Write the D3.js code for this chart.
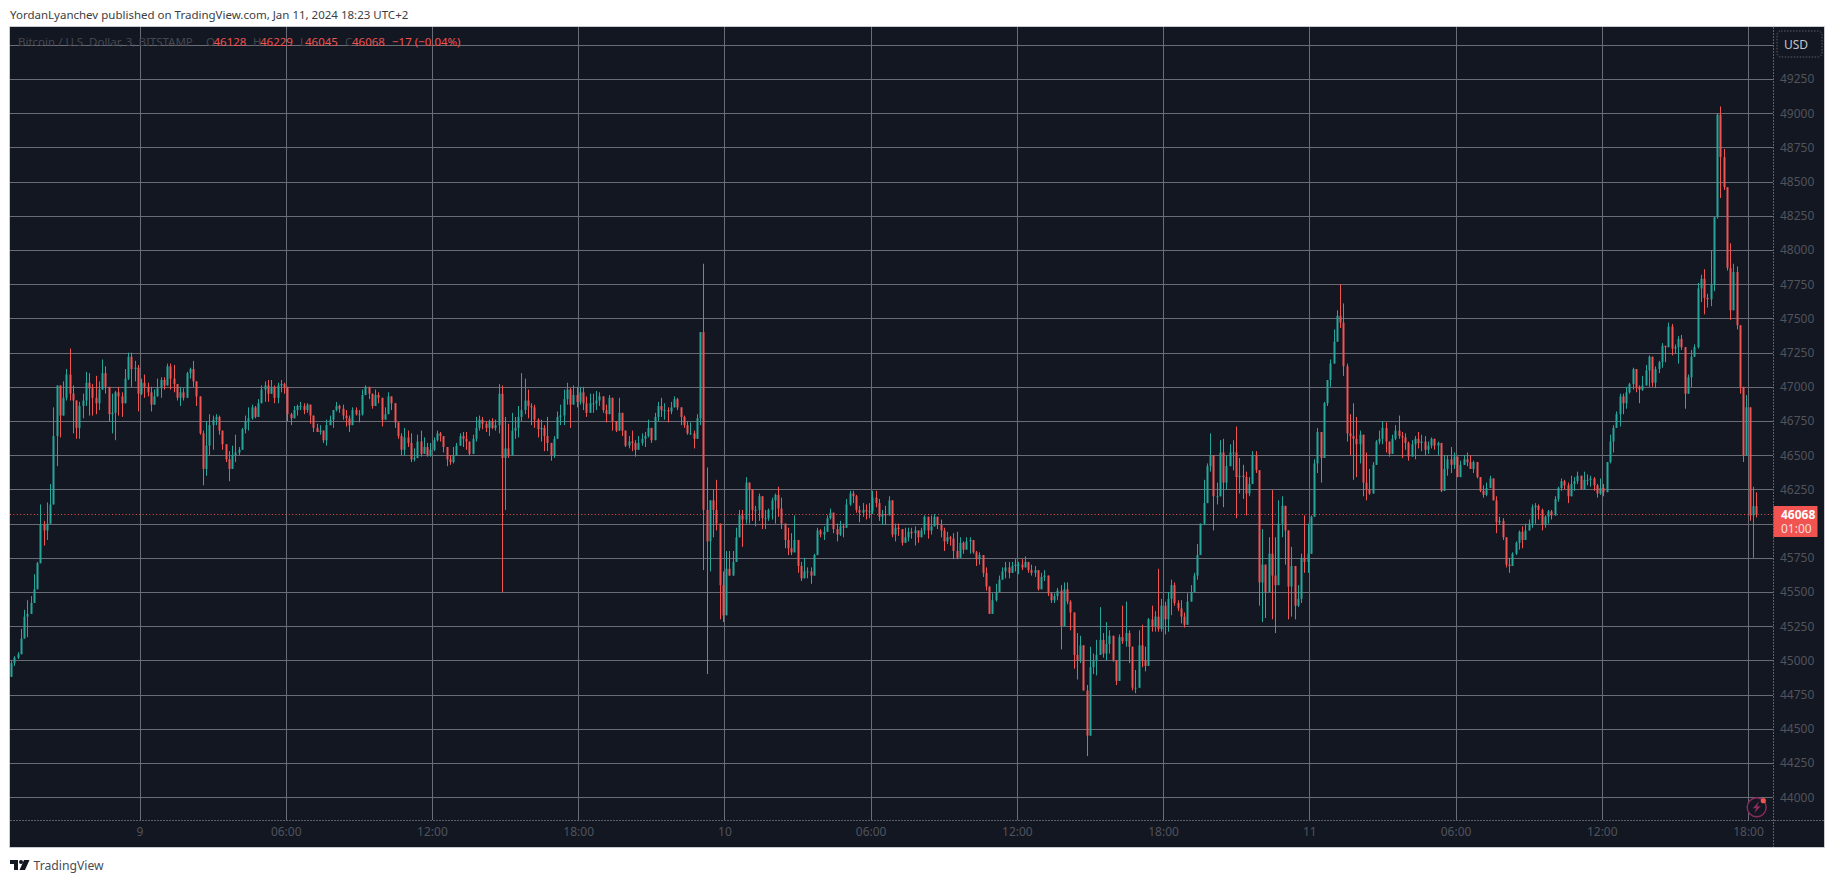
<!DOCTYPE html>
<html>
<head>
<meta charset="utf-8">
<title>BTC/USD</title>
<script src="https://cdnjs.cloudflare.com/ajax/libs/d3/7.8.5/d3.min.js"></script>
<style>
html,body{margin:0;padding:0;background:#fff;overflow:hidden}
svg{display:block}
text{font-family:"Noto Sans",sans-serif}
</style>
</head>
<body>
<svg id="chart" width="1835" height="883"></svg>
<script>
// BTC/USD candles, 8-minute steps, Jan 8 18:44 to Jan 11 18:20 (UTC+2 wall clock)
const firstOpen = 44880;
const barStartMs = Date.UTC(2024, 0, 8, 18, 44);
const barStepMin = 8;

const closes = [
44980,45020,45045,45160,45320,45340,45420,45520,45710,45990,45950,46000,46140,46640,47010,46790,46920,47090,46950,46900,46700,46860,46900,47030,46990,46920,46880,46980,47100,47000,46800,46810,46960,46930,46880,47060,47220,47130,47140,
46950,47030,47000,46960,46870,46930,46990,47050,47010,47150,47060,47020,46920,46960,46920,47100,47130,47040,46930,46660,46400,46570,46720,46760,46780,46680,46580,46470,46400,46500,46520,46540,46690,46750,46770,46850,46780,46880,46980,47010,46950,47000,46920,47010,47020,
47000,46800,46770,46830,46860,46860,46830,46870,46790,46700,46670,46680,46610,46720,46760,46830,46860,46840,46790,46770,46720,46830,46800,46800,46940,47000,46950,46860,46940,46920,46760,46800,46930,46880,46740,46640,46540,46630,46590,46470,46480,46600,46510,46560,46500,
46540,46610,46660,46640,46560,46470,46450,46500,46570,46640,46620,46600,46510,46620,46700,46760,46730,46700,46750,46700,46720,46950,46480,46550,46500,46680,46700,46780,46830,46900,46860,46850,46760,46690,46700,46640,46590,46500,46620,46780,46790,46910,46980,46870,46940,
46890,46960,46880,46810,46880,46880,46900,46930,46830,46800,46920,46750,46680,46810,46680,46570,46600,46590,46540,46590,46620,46640,46700,46610,46780,46860,46830,46830,46820,46850,46910,46850,46780,46720,46660,46660,46620,46770,47400,46100,45870,46170,46100,46000,45550,
45330,45670,45620,45720,45900,46060,46030,46300,46250,46100,46100,46200,46040,46040,46100,46170,46210,46110,46000,45880,45820,45790,45880,45690,45600,45650,45650,45620,45770,45950,45920,45940,46040,46080,45960,45920,45980,45970,46140,46220,46200,46100,46080,46100,46090,
46090,46190,46150,46050,46070,46060,46170,45920,45970,45960,45860,45900,45940,45930,45950,45900,45950,46050,45950,45980,46050,45990,45950,45870,45900,45890,45800,45750,45860,45810,45870,45880,45790,45740,45770,45640,45540,45340,45440,45500,45590,45650,45680,45640,45690,
45700,45700,45680,45720,45660,45640,45660,45520,45610,45620,45490,45440,45470,45510,45250,45520,45430,45350,45040,45000,45110,44780,44450,44950,45000,45040,45150,45050,45120,45180,45000,44850,45170,45140,45200,45100,44800,44800,45110,45000,44960,45300,45250,45320,45230,
45400,45300,45450,45550,45420,45380,45320,45260,45430,45500,45620,45770,46000,46150,46420,46500,46200,46200,46520,46300,46420,46520,46520,46340,46350,46340,46220,46290,46500,46390,45570,45700,45500,45780,45620,45550,46000,46130,45950,45540,45690,45400,45450,45750,45720,
45780,46050,46440,46670,46480,46880,47050,47170,47330,47520,47470,47150,46660,46640,46620,46580,46650,46300,46250,46220,46430,46600,46620,46700,46600,46510,46620,46680,46640,46630,46590,46490,46580,46620,46590,46600,46540,46570,46620,46570,46590,46240,46400,46470,46430,
46490,46340,46430,46470,46450,46400,46450,46340,46240,46210,46260,46330,46170,46010,46020,45900,45700,45690,45780,45860,45940,45880,45950,46000,46120,46130,46100,45990,46050,46090,46060,46180,46260,46310,46280,46200,46290,46310,46350,46250,46320,46320,46330,46280,46220,
46260,46230,46450,46600,46700,46800,46930,46880,46960,47020,47130,47000,46980,47010,47120,47220,47030,47130,47180,47300,47290,47440,47280,47290,47350,47290,46950,47070,47220,47290,47720,47790,47650,47640,47750,48240,48990,48680,48460,47870,47560,47840,47450,47000,46500,
46850,46060,46128,46068
];

const highs = [
45000,45030,45060,45230,45370,45440,45470,45630,45720,46140,46020,46155,46290,46850,47010,47000,47040,47130,47280,47010,46890,46890,46950,47110,47100,47020,47080,47040,47200,47150,46960,46950,46970,47000,46960,47130,47250,47250,47190,
47160,47060,47090,47030,47000,46980,47060,47070,47070,47170,47170,47160,47020,47000,46990,47110,47140,47190,47030,46900,46680,46750,46800,46790,46800,46790,46680,46580,46530,46570,46650,46560,46700,46790,46850,46870,46860,46910,47010,47040,47050,47050,47010,47030,47050,
47030,46830,46810,46860,46870,46890,46880,46880,46870,46740,46730,46720,46680,46760,46790,46830,46890,46870,46870,46830,46790,46850,46850,46830,46980,47010,46980,46950,46980,46960,46840,46850,46960,46900,46830,46730,46660,46700,46680,46660,46550,46650,46680,46630,46590,
46590,46630,46680,46670,46620,46540,46500,46560,46590,46660,46670,46670,46550,46650,46780,46790,46780,46750,46760,46770,46760,47020,47010,46780,46730,46810,46780,46860,47100,47060,46980,46880,46870,46770,46760,46720,46780,46580,46640,46820,46870,46980,47030,46990,47010,
47000,47000,47000,46930,46950,46950,46970,46960,46900,46870,46940,46830,46750,46920,46810,46680,46640,46680,46610,46640,46660,46670,46760,46690,46810,46890,46920,46880,46850,46890,46930,46920,46840,46790,46750,46740,46680,46800,47400,47900,46410,46170,46250,46320,45830,
45650,45800,45800,45800,45970,46100,46100,46340,46270,46170,46130,46220,46120,46100,46110,46190,46220,46270,46190,46000,45970,45930,46060,45820,45720,45750,45680,45680,45780,45970,45960,45980,46060,46110,46080,46000,46020,46000,46180,46240,46240,46210,46130,46150,46140,
46150,46240,46240,46180,46100,46130,46200,46170,46000,46000,45950,45970,45970,45970,45980,45920,45970,46060,46010,46060,46070,46050,46030,45970,45940,45910,45930,45940,45900,45870,45900,45900,45860,45800,45790,45770,45680,45540,45490,45560,45620,45680,45720,45720,45720,
45740,45720,45740,45760,45720,45700,45690,45650,45640,45660,45580,45500,45490,45530,45550,45570,45570,45440,45330,45200,45180,45000,44820,45100,45050,45150,45390,45200,45280,45220,45180,45000,45190,45400,45430,45220,45000,44930,45220,45260,45100,45310,45400,45360,45670,
45450,45430,45500,45590,45570,45440,45440,45350,45490,45550,45640,45850,46000,46320,46440,46660,46440,46300,46610,46620,46500,46580,46610,46710,46480,46430,46380,46340,46530,46530,46290,45960,45700,45900,46245,45900,46170,46200,46120,45750,45830,45620,45550,45780,46060,
46000,46060,46470,46700,46590,46890,47050,47200,47420,47560,47750,47610,47170,46800,46880,46780,46680,46620,46520,46400,46450,46610,46680,46750,46740,46570,46650,46720,46790,46670,46660,46600,46610,46640,46670,46650,46640,46600,46630,46610,46600,46590,46500,46500,46560,
46520,46430,46460,46500,46520,46500,46460,46440,46330,46280,46300,46350,46250,46200,46050,46040,45890,45750,45790,45870,45950,45980,46000,46030,46140,46150,46140,46110,46060,46100,46100,46200,46270,46330,46320,46300,46350,46340,46380,46310,46380,46360,46350,46340,46290,
46330,46290,46450,46650,46720,46820,46950,46950,47000,47030,47140,47130,47010,47080,47160,47230,47200,47150,47190,47320,47300,47470,47460,47310,47370,47380,47250,47090,47270,47310,47760,47820,47860,47680,48000,48240,49000,49050,48740,48460,48050,47900,47880,47440,47000,
46940,46780,46270,46229
];

const lows = [
44880,44960,45010,45080,45210,45170,45360,45470,45560,45870,45840,45880,46030,46300,46420,46630,46800,46900,46900,46660,46620,46620,46770,46860,46790,46790,46800,46830,47000,46950,46745,46660,46610,46790,46780,46980,47050,47000,47040,
46820,46940,46920,46930,46820,46920,46980,46920,46980,47030,46980,46960,46900,46860,46900,46950,47060,47000,46860,46650,46280,46350,46500,46540,46720,46650,46540,46450,46310,46480,46450,46500,46540,46660,46680,46760,46770,46830,46880,46890,46890,46950,46880,46880,46960,
46950,46750,46720,46780,46790,46830,46800,46810,46730,46670,46670,46650,46590,46570,46730,46700,46820,46810,46760,46710,46670,46800,46790,46740,46790,46940,46910,46840,46860,46880,46710,46770,46840,46830,46700,46620,46500,46500,46560,46450,46455,46540,46490,46510,46490,
46490,46530,46600,46600,46520,46420,46430,46440,46500,46570,46560,46540,46500,46510,46600,46680,46690,46670,46640,46690,46680,46660,45500,46100,46480,46500,46620,46630,46750,46800,46770,46720,46700,46630,46600,46530,46530,46460,46480,46710,46720,46720,46870,46700,46880,
46850,46870,46830,46780,46820,46810,46830,46860,46810,46740,46840,46680,46670,46720,46640,46560,46550,46530,46490,46560,46570,46560,46630,46590,46680,46750,46780,46760,46740,46800,46850,46830,46720,46700,46650,46650,46550,46720,46720,45660,44900,45650,45900,45950,45300,
45280,45450,45620,45630,45800,45940,45830,46000,46000,46020,45980,46020,45960,45960,46020,46030,46000,46050,45960,45820,45770,45770,45800,45640,45580,45600,45600,45560,45650,45880,45900,45880,45980,46030,45930,45870,45910,45900,46000,46130,46150,46080,46010,46050,46030,
46040,46070,46120,46020,45990,45990,46080,45900,45870,45910,45840,45880,45870,45890,45840,45860,45900,45920,45890,45920,45990,45960,45900,45800,45850,45840,45740,45740,45800,45780,45810,45780,45780,45690,45700,45610,45510,45340,45400,45430,45500,45590,45600,45600,45660,
45650,45630,45660,45680,45640,45620,45610,45510,45540,45580,45470,45420,45420,45440,45080,45450,45410,45220,44940,44860,44980,44780,44300,44650,44900,44890,45100,45020,45000,45050,44990,44820,44920,45120,45100,44980,44780,44760,44900,44950,44920,45020,45210,45210,45210,
45210,45190,45210,45330,45400,45360,45270,45240,45360,45460,45500,45590,45820,45990,46160,46380,45950,46140,46200,46120,46250,46420,46390,46040,46220,46180,46060,46200,46290,46370,45400,45280,45310,45700,45300,45200,45600,45900,45700,45300,45320,45300,45390,45420,45640,
45640,45860,46070,46370,46300,46630,46860,47000,47270,47330,47430,47080,46600,46500,46320,46340,46440,46200,46170,46210,46230,46460,46580,46580,46520,46490,46540,46610,46620,46480,46540,46460,46500,46470,46550,46530,46500,46510,46550,46540,46500,46230,46240,46350,46370,
46400,46340,46360,46430,46420,46400,46370,46330,46230,46190,46200,46300,46170,45930,45990,45880,45680,45640,45710,45770,45810,45820,45890,45960,45970,46000,46030,45950,45970,46000,46030,46060,46160,46240,46250,46150,46260,46240,46290,46250,46290,46280,46270,46240,46190,
46210,46200,46250,46440,46520,46720,46710,46800,46840,46950,46980,46960,46880,46970,47040,47000,47000,46990,47100,47140,47180,47290,47230,47240,47170,47270,46840,46990,47000,47230,47280,47620,47530,47580,47590,47700,48230,48380,48440,47850,47490,47640,47420,46950,46450,
46500,46020,45750,46045
];

const priceTicks = [44000,44250,44500,44750,45000,45250,45500,45750,46000,46250,46500,46750,47000,47250,47500,47750,48000,48250,48500,48750,49000,49250,49500];
// Prices with a grid line but no label: one sits under the currency button, one under the last price tag
const unlabelledPrices = [49500, 46000];
const timeTicks = [
  Date.UTC(2024,0,9,0), Date.UTC(2024,0,9,6), Date.UTC(2024,0,9,12), Date.UTC(2024,0,9,18),
  Date.UTC(2024,0,10,0), Date.UTC(2024,0,10,6), Date.UTC(2024,0,10,12), Date.UTC(2024,0,10,18),
  Date.UTC(2024,0,11,0), Date.UTC(2024,0,11,6), Date.UTC(2024,0,11,12), Date.UTC(2024,0,11,18)
];
const lastPrice = 46068;
const countdown = "01:00";
const headerText = "YordanLyanchev published on TradingView.com, Jan 11, 2024 18:23 UTC+2";
const symbolText = "Bitcoin / U.S. Dollar, 3, BITSTAMP";
const ohlcParts = [["O","46128"],["H","46229"],["L","46045"],["C","46068"]];
const changeText = "\u221217 (\u22120.04%)";

const UP = "#26a69a", DOWN = "#f05350", PANE = "#131722", GRID = "#6b6d76", DIM = "#50535c";
const pane = {left: 10, right: 1773, outerRight: 1824, top: 27, bottom: 820, outerBottom: 847};

const candles = closes.map((c, i) => {
  const o = i === 0 ? firstOpen : closes[i - 1];
  return {t: barStartMs + i * barStepMin * 60000, o, c,
          h: Math.max(highs[i], o, c), l: Math.min(lows[i], o, c)};
});

const svg = d3.select("#chart");

const x = d3.scaleUtc()
  .domain([timeTicks[0], timeTicks[timeTicks.length - 1]])
  .range([139.5, 1748]);
const y = d3.scaleLinear()
  .domain([43833, 49631])
  .range([pane.bottom, pane.top]);

// Pane background and outer frame
svg.append("rect")
  .attr("x", pane.left).attr("y", pane.top)
  .attr("width", pane.outerRight - pane.left).attr("height", pane.outerBottom - pane.top)
  .attr("fill", PANE);

// Grid
svg.append("g").selectAll("line").data(priceTicks).join("line")
  .attr("x1", pane.left).attr("x2", pane.right)
  .attr("y1", d => Math.round(y(d)) + 0.5).attr("y2", d => Math.round(y(d)) + 0.5)
  .attr("stroke", GRID);
svg.append("g").selectAll("line").data(timeTicks).join("line")
  .attr("x1", d => Math.round(x(d)) + 0.5).attr("x2", d => Math.round(x(d)) + 0.5)
  .attr("y1", pane.top).attr("y2", pane.bottom)
  .attr("stroke", GRID);

// Axis separators
svg.append("line")
  .attr("x1", pane.left).attr("x2", pane.outerRight)
  .attr("y1", pane.bottom + 0.5).attr("y2", pane.bottom + 0.5)
  .attr("stroke", "#5d5f68").attr("stroke-dasharray", "2,1");
svg.append("line")
  .attr("x1", pane.right + 0.5).attr("x2", pane.right + 0.5)
  .attr("y1", pane.top).attr("y2", pane.outerBottom)
  .attr("stroke", "#5d5f68").attr("stroke-dasharray", "2,1");

// Last price line
svg.append("line")
  .attr("x1", pane.left).attr("x2", pane.right)
  .attr("y1", Math.round(y(lastPrice)) + 0.5).attr("y2", Math.round(y(lastPrice)) + 0.5)
  .attr("stroke", DOWN).attr("stroke-dasharray", "1,2.4");

// Candles
const bars = svg.append("g");
bars.selectAll("line").data(candles).join("line")
  .attr("x1", d => Math.round(x(d.t)) + 0.5).attr("x2", d => Math.round(x(d.t)) + 0.5)
  .attr("y1", d => y(d.h)).attr("y2", d => y(d.l))
  .attr("stroke", d => d.c >= d.o ? UP : DOWN);
bars.selectAll("rect").data(candles).join("rect")
  .attr("x", d => Math.round(x(d.t)) - 0.5)
  .attr("width", 2)
  .attr("y", d => y(Math.max(d.o, d.c)))
  .attr("height", d => Math.max(1, Math.abs(y(d.o) - y(d.c))))
  .attr("fill", d => d.c >= d.o ? UP : DOWN);

// Price axis labels
const priceAxis = d3.axisRight(y)
  .tickValues(priceTicks.filter(d => !unlabelledPrices.includes(d)))
  .tickSize(0).tickPadding(0)
  .tickFormat(d3.format("d"));
const priceG = svg.append("g").attr("transform", `translate(${pane.right + 7},0)`).call(priceAxis);
priceG.select(".domain").remove();
priceG.selectAll("text").attr("fill", DIM).style("font-size", "12px").style("font-family", '"Noto Sans",sans-serif');

// Time axis labels
const labelFmt = d => {
  const dt = new Date(d);
  return dt.getUTCHours() === 0 ? String(dt.getUTCDate()) : d3.utcFormat("%H:%M")(dt);
};
const timeAxis = d3.axisBottom(x).tickValues(timeTicks).tickSize(0).tickPadding(0).tickFormat(labelFmt);
const timeG = svg.append("g").attr("transform", `translate(0,${pane.bottom + 7})`).call(timeAxis);
timeG.select(".domain").remove();
timeG.selectAll("text").attr("fill", DIM).style("font-size", "12px").style("font-family", '"Noto Sans",sans-serif');

// Frame on top of the pane edges
svg.append("path")
  .attr("d", `M${pane.left - 0.5},${pane.outerBottom + 0.5}V${pane.top - 0.5}H${pane.outerRight + 0.5}V${pane.outerBottom + 0.5}H${pane.left - 0.5}`)
  .attr("fill", "none").attr("stroke", "#c9cbd1");

// Currency button
svg.append("rect")
  .attr("x", 1777).attr("y", 31).attr("width", 45).attr("height", 26).attr("rx", 4)
  .attr("fill", PANE).attr("stroke", "#5d5f68").attr("stroke-dasharray", "1.5,1.5");
svg.append("text").attr("x", 1796).attr("y", 48.5).attr("text-anchor", "middle")
  .attr("fill", "#c6c7cd").style("font-size", "12px").text("USD");

// Last price tag
svg.append("rect")
  .attr("x", pane.right + 0.5).attr("y", 506).attr("width", 44).attr("height", 31).attr("fill", DOWN);
svg.append("text").attr("x", 1781).attr("y", 519).attr("fill", "#fff")
  .style("font-size", "12px").style("font-weight", 700).text(lastPrice);
svg.append("text").attr("x", 1781).attr("y", 533).attr("fill", "#f5dede")
  .style("font-size", "12px").text(countdown);

// Header and legend
svg.append("text").attr("x", 10).attr("y", 19).attr("fill", "#3c3e44")
  .style("font-size", "11.5px").text(headerText);

const legend = svg.append("g").style("font-size", "11.5px");
legend.append("text").attr("x", 18).attr("y", 46).attr("fill", "#454750").text(symbolText);
const legendX = [[206, 213.5], [253, 260], [300, 305], [345, 352]];
ohlcParts.forEach(([k, v], i) => {
  legend.append("text").attr("x", legendX[i][0]).attr("y", 46).attr("fill", "#454750").text(k);
  legend.append("text").attr("x", legendX[i][1]).attr("y", 46).attr("fill", DOWN).text(v);
});
legend.append("text").attr("x", 392).attr("y", 46).attr("fill", DOWN).text(changeText);

// Replay badge in the pane corner
const badge = svg.append("g").attr("transform", "translate(1756.7,807.3)");
badge.append("circle").attr("r", 9.5).attr("fill", PANE).attr("stroke", "#8b2a5e").attr("stroke-width", 1.5);
badge.append("path").attr("d", "M2.5,-6 L-4,1 L-0.5,1 L-2.5,6 L4,-1 L0.5,-1 Z").attr("fill", "#8b2a5e");
badge.append("circle").attr("cx", 6.6).attr("cy", -6.6).attr("r", 2.6).attr("fill", DOWN);

// Footer logo and wordmark
const logo = svg.append("g").attr("fill", "#131722");
logo.append("path").attr("d", "M10,860H18V870H14V864H10Z");
logo.append("circle").attr("cx", 21).attr("cy", 862).attr("r", 2);
logo.append("path").attr("d", "M24,860H29.5L25,870H19.5Z");
svg.append("text").attr("x", 33.5).attr("y", 870).attr("fill", "#4a4c54")
  .style("font-size", "12.2px").text("TradingView");
</script>
</body>
</html>
